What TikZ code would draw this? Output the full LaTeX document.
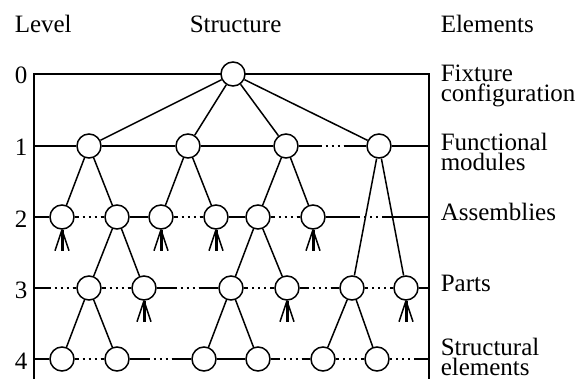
\documentclass[tikz,border=0pt]{standalone}
\usepackage{fontspec}
\setmainfont{Liberation Serif}
\usetikzlibrary{calc}

\newcommand{\dotlink}[2]{%
	\draw (#1) -- ($(#1)!.5!(#2)+(-11,0)$);
	\draw[dots] ($(#1)!.5!(#2)+(-11,0)$) -- ($(#1)!.5!(#2)+(11,0)$);
	\draw ($(#1)!.5!(#2)+(11,0)$) -- (#2);}
\newcommand{\fork}[1]{%
	\draw (#1.south) -- ++(-7,21) (#1.south) -- ++(7,21);
	\draw[line width=3pt] (#1.south) -- ++(0,21);}

\begin{document}
\begin{tikzpicture}[x=1pt,y=-1pt,line width=1.5pt,
	font=\fontsize{25}{20}\selectfont,
	elnode/.style={circle,draw,fill=white,minimum size=24pt,inner sep=0pt},
	dots/.style={line width=2.2pt,dash pattern=on 2pt off 4pt,dash phase=2pt},
	lvl/.style={anchor=base east,inner sep=0pt},
	elem/.style={anchor=base west,align=left,inner sep=0pt}]
	\useasboundingbox (0,0) rectangle (577,379);
	\node[anchor=base west,inner sep=0pt] (hlevel) at (14,33) {Level};
	\node[anchor=base west,inner sep=0pt] (hstruct) at (189,33) {Structure};
	\node[anchor=base west,inner sep=0pt] (helem) at (440,33) {Elements};
	\node[lvl] (lv0) at (28,84) {0};
	\node[lvl] (lv1) at (28,156) {1};
	\node[lvl] (lv2) at (28,227) {2};
	\node[lvl] (lv3) at (28,298) {3};
	\node[lvl] (lv4) at (28,369) {4};
	\node[elem] (e0) at (440,102) {Fixture\\configuration};
	\node[elem] (e1) at (440,171) {Functional\\modules};
	\node[elem] (e2) at (440,220) {Assemblies};
	\node[elem] (e3) at (440,291) {Parts};
	\node[elem] (e4) at (440,375) {Structural\\elements};
	\coordinate (L0) at (34,74);
	\coordinate (L1) at (34,146);
	\coordinate (L2) at (34,217);
	\coordinate (L3) at (34,288);
	\coordinate (L4) at (34,359);
	\coordinate (Lb) at (34,379);
	\coordinate (R0) at (429,74);
	\coordinate (R1) at (429,146);
	\coordinate (R2) at (429,217);
	\coordinate (R3) at (429,288);
	\coordinate (R4) at (429,359);
	\coordinate (Rb) at (429,379);
	\draw (Lb) -- (L0) -- (R0) -- (Rb);
	\node[elnode] (n0) at (233,74) {};
	\node[elnode] (n1a) at (89,146) {};
	\node[elnode] (n1b) at (188,146) {};
	\node[elnode] (n1c) at (286,146) {};
	\node[elnode] (n1d) at (379,146) {};
	\node[elnode] (n2a) at (62,217) {};
	\node[elnode] (n2b) at (117,217) {};
	\node[elnode] (n2c) at (161,217) {};
	\node[elnode] (n2d) at (216,217) {};
	\node[elnode] (n2e) at (258,217) {};
	\node[elnode] (n2f) at (313,217) {};
	\node[elnode] (n3a) at (89,288) {};
	\node[elnode] (n3b) at (144,288) {};
	\node[elnode] (n3c) at (231,288) {};
	\node[elnode] (n3d) at (287,288) {};
	\node[elnode] (n3e) at (352,288) {};
	\node[elnode] (n3f) at (406,288) {};
	\node[elnode] (n4a) at (62,359) {};
	\node[elnode] (n4b) at (117,359) {};
	\node[elnode] (n4c) at (204,359) {};
	\node[elnode] (n4d) at (258,359) {};
	\node[elnode] (n4e) at (323,359) {};
	\node[elnode] (n4f) at (377,359) {};
	\draw (n0) -- (n1a);
	\draw (n0) -- (n1b);
	\draw (n0) -- (n1c);
	\draw (n0) -- (n1d);
	\draw (n1a) -- (n2a);
	\draw (n1a) -- (n2b);
	\draw (n1b) -- (n2c);
	\draw (n1b) -- (n2d);
	\draw (n1c) -- (n2e);
	\draw (n1c) -- (n2f);
	\draw (n1d) -- (n3e);
	\draw (n1d) -- (n3f);
	\draw (n2b) -- (n3a);
	\draw (n2b) -- (n3b);
	\draw (n2e) -- (n3c);
	\draw (n2e) -- (n3d);
	\draw (n3a) -- (n4a);
	\draw (n3a) -- (n4b);
	\draw (n3c) -- (n4c);
	\draw (n3c) -- (n4d);
	\draw (n3e) -- (n4e);
	\draw (n3e) -- (n4f);
	\draw (L1) -- (n1a) -- (n1b) -- (n1c);
	\dotlink{n1c}{n1d}
	\draw (n1d) -- (R1);
	\draw (L2) -- (n2a);
	\dotlink{n2a}{n2b}
	\draw (n2b) -- (n2c);
	\dotlink{n2c}{n2d}
	\draw (n2d) -- (n2e);
	\dotlink{n2e}{n2f}
	\dotlink{n2f}{R2}
	\dotlink{L3}{n3a}
	\dotlink{n3a}{n3b}
	\dotlink{n3b}{n3c}
	\dotlink{n3c}{n3d}
	\dotlink{n3d}{n3e}
	\dotlink{n3e}{n3f}
	\draw (n3f) -- (R3);
	\draw (L4) -- (n4a);
	\dotlink{n4a}{n4b}
	\dotlink{n4b}{n4c}
	\draw (n4c) -- (n4d);
	\dotlink{n4d}{n4e}
	\dotlink{n4e}{n4f}
	\dotlink{n4f}{R4}
	\fork{n2a}
	\fork{n2c}
	\fork{n2d}
	\fork{n2f}
	\fork{n3b}
	\fork{n3d}
	\fork{n3f}
\end{tikzpicture}
\end{document}
